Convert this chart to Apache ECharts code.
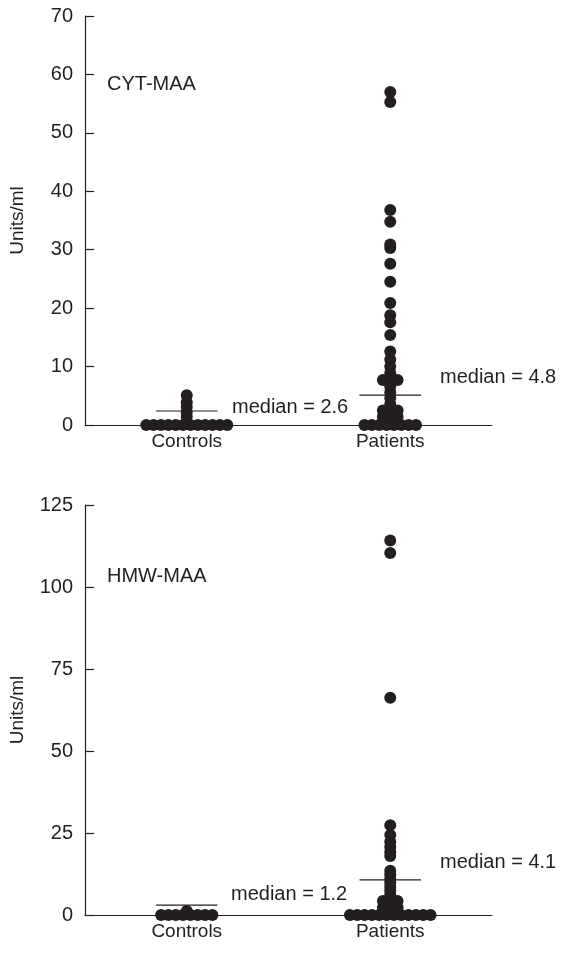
<!DOCTYPE html>
<html>
<head>
<meta charset="utf-8">
<script src="https://cdn.jsdelivr.net/npm/echarts@6/dist/echarts.min.js"></script>
<style>
html,body{margin:0;padding:0;background:#fff;}
#main{width:564px;height:967px;}
</style>
</head>
<body>
<div id="main"></div>
<script>
// ---- data ----
var categories = ['Controls', 'Patients'];

var cytControls = [0,0,0,0,0,0,0,0,0,0,0,0, 1.4, 2.2, 3.1, 3.9, 5.1];
var cytPatients = [0,0,0,0,0,0,0,0, 0.8, 1.4,1.4,1.4, 2.5,2.5,2.5, 3.6, 4.6, 5.6, 6.6, 7.7,7.7,7.7, 8.9, 10.0, 11.2, 12.6,
                   15.4, 17.6, 18.8, 20.9, 24.5, 27.6, 30.3, 30.9, 34.8, 36.8, 55.3, 57.0];
var cytMedianLine = [2.4, 5.1];
var cytMedianText = ['median = 2.6', 'median = 4.8'];

var hmwControls = [0,0,0,0,0,0,0,0, 1.2];
var hmwPatients = [0,0,0,0,0,0,0,0,0,0,0,0, 2.3,2.3,2.3, 4.3,4.3,4.3, 6.2, 7.4, 8.6, 9.8, 11.0, 12.3, 13.5,
                   18.0, 19.2, 20.7, 22.3, 24.4, 27.4, 66.2, 110.4, 114.2];
var hmwMedianLine = [3.0, 10.7];
var hmwMedianText = ['median = 1.2', 'median = 4.1'];

var cytTicks = {min: 0, max: 70, interval: 10};
var hmwTicks = {min: 0, max: 125, interval: 25};

// ---- layout ----
var INK = '#231f20';
var FONT = 'Liberation Sans, Arial, sans-serif';
var grids = [
  {left: 83, top: 16, width: 409, height: 409},
  {left: 81, top: 505, width: 411, height: 410}
];
var DOT = 12, SPACING_PX = 7.4, HALF_LINE_PX = 31;

function swarm(values, catIndex, gridW) {
  var unitsPerPx = 2 / gridW;
  var groups = {};
  values.forEach(function (v) { (groups[v] = groups[v] || []).push(v); });
  var out = [];
  Object.keys(groups).forEach(function (k) {
    var g = groups[k], n = g.length;
    g.forEach(function (v, i) {
      out.push([catIndex + (i - (n - 1) / 2) * SPACING_PX * unitsPerPx, v]);
    });
  });
  return out;
}

function medianSeries(vals, gi) {
  var hw = HALF_LINE_PX * 2 / grids[gi].width;
  return vals.map(function (m, ci) {
    return {
      type: 'line', xAxisIndex: gi, yAxisIndex: gi, symbol: 'none', silent: true,
      lineStyle: {color: INK, width: 1.2}, z: 3,
      data: [[ci - hw, m], [ci + hw, m]]
    };
  });
}

function xAxis(gi) {
  return {
    gridIndex: gi, type: 'value', min: -0.5, max: 1.5, interval: 0.5,
    axisLine: {show: true, onZero: false, lineStyle: {color: INK, width: 1.2}},
    axisTick: {show: false}, splitLine: {show: false},
    axisLabel: {
      color: INK, fontSize: 19, fontFamily: FONT, margin: 7,
      formatter: function (v) {
        if (Math.abs(v) < 1e-9) return categories[0];
        if (Math.abs(v - 1) < 1e-9) return categories[1];
        return '';
      }
    }
  };
}
function yAxis(gi, t) {
  return {
    gridIndex: gi, type: 'value', min: t.min, max: t.max, interval: t.interval,
    name: 'Units/ml', nameLocation: 'middle', nameGap: 58,
    nameTextStyle: {color: INK, fontSize: 19, fontFamily: FONT},
    axisLine: {show: true, onZero: false, lineStyle: {color: INK, width: 1.2}},
    axisTick: {show: true, inside: true, length: 9, lineStyle: {color: INK, width: 1.2}},
    splitLine: {show: false},
    axisLabel: {color: INK, fontSize: 20, fontFamily: FONT, margin: 12}
  };
}
function dots(vals, gi, ci) {
  return {
    type: 'scatter', xAxisIndex: gi, yAxisIndex: gi, symbolSize: DOT, z: 4,
    itemStyle: {color: INK, opacity: 1}, silent: true,
    data: swarm(vals, ci, grids[gi].width)
  };
}
function txt(s, x, y) {
  return {type: 'text', left: x, top: y, style: {text: s, fill: INK, font: '20px ' + FONT}};
}

var chart = echarts.init(document.getElementById('main'), null, {renderer: 'canvas'});
chart.setOption({
  animation: false,
  backgroundColor: '#fff',
  grid: grids,
  xAxis: [xAxis(0), xAxis(1)],
  yAxis: [yAxis(0, cytTicks), yAxis(1, hmwTicks)],
  series: [
    dots(cytControls, 0, 0), dots(cytPatients, 0, 1),
    dots(hmwControls, 1, 0), dots(hmwPatients, 1, 1)
  ].concat(medianSeries(cytMedianLine, 0), medianSeries(hmwMedianLine, 1)),
  graphic: [
    txt('CYT-MAA', 107, 74),
    txt('HMW-MAA', 107, 566),
    txt(cytMedianText[0], 232, 397),
    txt(cytMedianText[1], 440, 367),
    txt(hmwMedianText[0], 231, 884),
    txt(hmwMedianText[1], 440, 852)
  ]
});
</script>
</body>
</html>
